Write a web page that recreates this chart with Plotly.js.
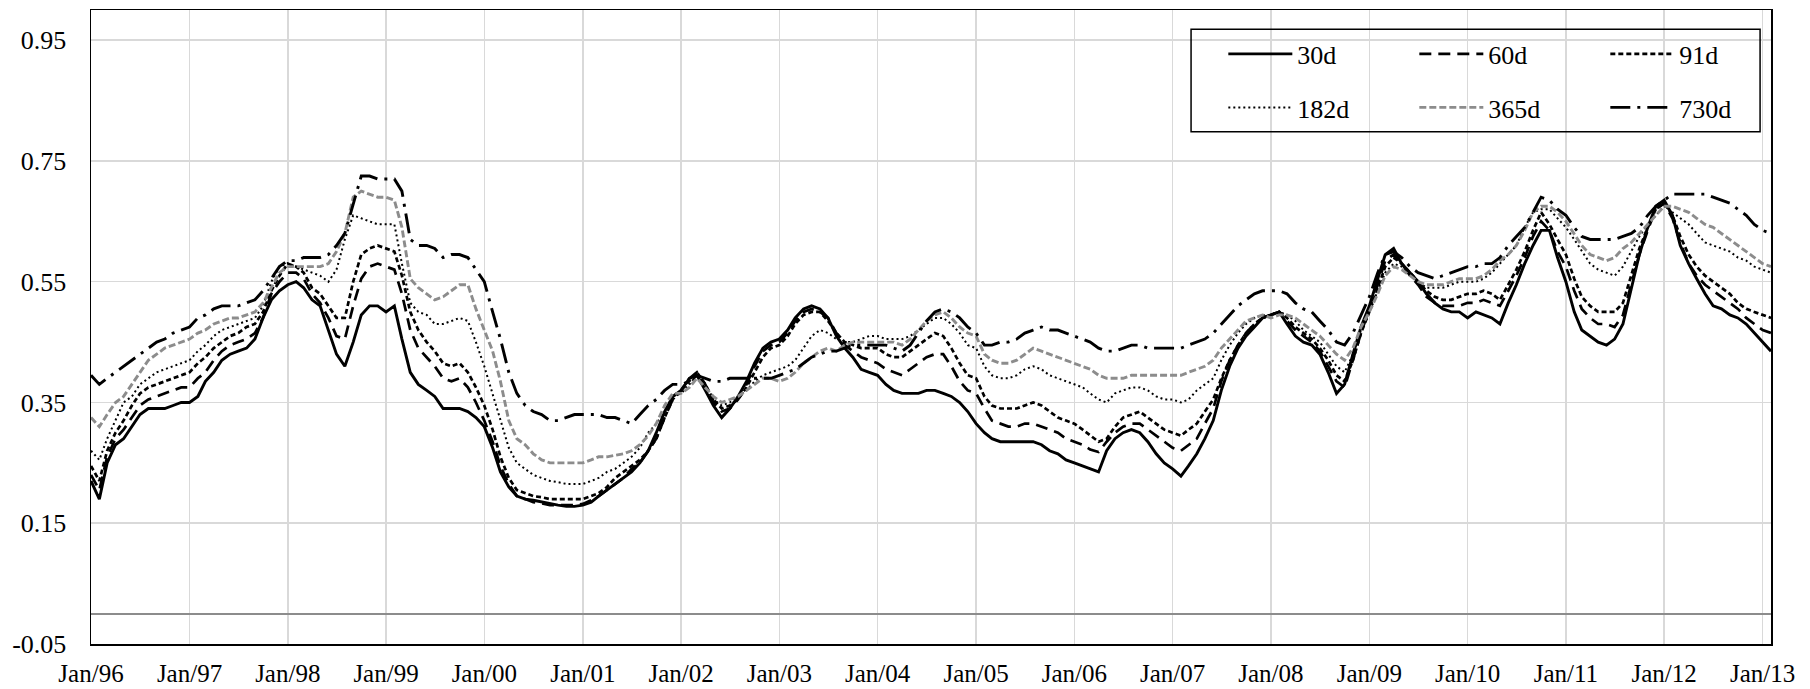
<!DOCTYPE html>
<html><head><meta charset="utf-8">
<script src="https://cdn.plot.ly/plotly-3.0.1.min.js"></script>
<style>html,body{margin:0;padding:0;background:#fff}#chart{width:1810px;height:689px}</style>
</head><body><div id="chart"></div>
<script>
const months = [
"1996-01","1996-02","1996-03","1996-04","1996-05","1996-06","1996-07","1996-08","1996-09","1996-10","1996-11","1996-12",
"1997-01","1997-02","1997-03","1997-04","1997-05","1997-06","1997-07","1997-08","1997-09","1997-10","1997-11","1997-12",
"1998-01","1998-02","1998-03","1998-04","1998-05","1998-06","1998-07","1998-08","1998-09","1998-10","1998-11","1998-12",
"1999-01","1999-02","1999-03","1999-04","1999-05","1999-06","1999-07","1999-08","1999-09","1999-10","1999-11","1999-12",
"2000-01","2000-02","2000-03","2000-04","2000-05","2000-06","2000-07","2000-08","2000-09","2000-10","2000-11","2000-12",
"2001-01","2001-02","2001-03","2001-04","2001-05","2001-06","2001-07","2001-08","2001-09","2001-10","2001-11","2001-12",
"2002-01","2002-02","2002-03","2002-04","2002-05","2002-06","2002-07","2002-08","2002-09","2002-10","2002-11","2002-12",
"2003-01","2003-02","2003-03","2003-04","2003-05","2003-06","2003-07","2003-08","2003-09","2003-10","2003-11","2003-12",
"2004-01","2004-02","2004-03","2004-04","2004-05","2004-06","2004-07","2004-08","2004-09","2004-10","2004-11","2004-12",
"2005-01","2005-02","2005-03","2005-04","2005-05","2005-06","2005-07","2005-08","2005-09","2005-10","2005-11","2005-12",
"2006-01","2006-02","2006-03","2006-04","2006-05","2006-06","2006-07","2006-08","2006-09","2006-10","2006-11","2006-12",
"2007-01","2007-02","2007-03","2007-04","2007-05","2007-06","2007-07","2007-08","2007-09","2007-10","2007-11","2007-12",
"2008-01","2008-02","2008-03","2008-04","2008-05","2008-06","2008-07","2008-08","2008-09","2008-10","2008-11","2008-12",
"2009-01","2009-02","2009-03","2009-04","2009-05","2009-06","2009-07","2009-08","2009-09","2009-10","2009-11","2009-12",
"2010-01","2010-02","2010-03","2010-04","2010-05","2010-06","2010-07","2010-08","2010-09","2010-10","2010-11","2010-12",
"2011-01","2011-02","2011-03","2011-04","2011-05","2011-06","2011-07","2011-08","2011-09","2011-10","2011-11","2011-12",
"2012-01","2012-02","2012-03","2012-04","2012-05","2012-06","2012-07","2012-08","2012-09","2012-10","2012-11","2012-12",
"2013-01","2013-02"
];

const s30d = [
0.22,0.19,0.25,0.28,0.29,0.31,0.33,0.34,0.34,0.34,0.345,0.35,
0.35,0.36,0.385,0.40,0.42,0.43,0.435,0.44,0.455,0.49,0.52,0.535,
0.545,0.55,0.54,0.52,0.51,0.47,0.43,0.41,0.45,0.495,0.51,0.51,
0.50,0.51,0.455,0.40,0.38,0.37,0.36,0.34,0.34,0.34,0.335,0.325,
0.31,0.275,0.235,0.21,0.195,0.19,0.188,0.185,0.182,0.18,0.178,0.178,
0.18,0.185,0.195,0.205,0.215,0.225,0.235,0.25,0.27,0.30,0.335,0.36,
0.37,0.39,0.395,0.37,0.345,0.325,0.34,0.36,0.385,0.415,0.44,0.45,
0.455,0.47,0.49,0.505,0.51,0.505,0.49,0.46,0.44,0.425,0.405,0.40,
0.395,0.38,0.37,0.365,0.365,0.365,0.37,0.37,0.365,0.36,0.35,0.335,
0.315,0.30,0.29,0.285,0.285,0.285,0.285,0.285,0.28,0.27,0.265,0.255,
0.25,0.245,0.24,0.235,0.27,0.29,0.30,0.305,0.30,0.285,0.265,0.25,
0.24,0.228,0.245,0.265,0.29,0.32,0.37,0.41,0.44,0.46,0.475,0.49,
0.495,0.50,0.48,0.46,0.45,0.445,0.43,0.40,0.365,0.38,0.43,0.475,
0.51,0.555,0.595,0.605,0.58,0.565,0.55,0.53,0.515,0.505,0.50,0.50,
0.49,0.50,0.495,0.49,0.48,0.515,0.545,0.58,0.61,0.635,0.635,0.59,
0.55,0.50,0.47,0.46,0.45,0.445,0.455,0.48,0.54,0.595,0.64,0.675,
0.685,0.66,0.61,0.58,0.555,0.53,0.51,0.505,0.495,0.49,0.48,0.465,
0.45,0.435
];

const s60d = [
0.23,0.205,0.26,0.29,0.305,0.325,0.345,0.355,0.36,0.365,0.37,0.375,
0.375,0.39,0.40,0.42,0.435,0.445,0.45,0.455,0.465,0.49,0.53,0.55,
0.565,0.565,0.555,0.53,0.515,0.49,0.46,0.455,0.51,0.555,0.575,0.58,
0.575,0.57,0.53,0.47,0.44,0.425,0.41,0.39,0.385,0.39,0.375,0.35,
0.32,0.285,0.245,0.215,0.195,0.19,0.185,0.183,0.18,0.18,0.18,0.18,
0.182,0.188,0.195,0.205,0.215,0.225,0.24,0.25,0.27,0.29,0.325,0.355,
0.37,0.39,0.40,0.38,0.35,0.335,0.34,0.355,0.38,0.41,0.435,0.445,
0.45,0.465,0.485,0.50,0.505,0.50,0.49,0.465,0.445,0.435,0.425,0.42,
0.415,0.405,0.40,0.395,0.405,0.415,0.425,0.43,0.43,0.41,0.385,0.37,
0.365,0.34,0.32,0.315,0.31,0.31,0.315,0.315,0.31,0.305,0.30,0.29,
0.285,0.28,0.272,0.268,0.285,0.30,0.31,0.315,0.315,0.305,0.295,0.285,
0.275,0.27,0.28,0.29,0.315,0.34,0.385,0.42,0.445,0.465,0.48,0.49,
0.495,0.50,0.485,0.47,0.46,0.45,0.435,0.41,0.385,0.375,0.42,0.465,
0.505,0.545,0.585,0.595,0.58,0.56,0.545,0.525,0.515,0.51,0.51,0.51,
0.515,0.515,0.52,0.515,0.51,0.535,0.56,0.59,0.625,0.65,0.635,0.60,
0.575,0.535,0.505,0.49,0.48,0.48,0.475,0.495,0.545,0.595,0.635,0.67,
0.68,0.655,0.615,0.58,0.56,0.545,0.535,0.525,0.515,0.505,0.49,0.48,
0.47,0.465
];

const s91d = [
0.245,0.22,0.27,0.30,0.32,0.345,0.365,0.375,0.38,0.385,0.39,0.395,
0.40,0.415,0.425,0.44,0.45,0.46,0.465,0.475,0.48,0.50,0.535,0.56,
0.58,0.575,0.565,0.54,0.53,0.51,0.49,0.49,0.55,0.595,0.605,0.61,
0.605,0.60,0.56,0.50,0.47,0.45,0.435,0.415,0.41,0.415,0.40,0.375,
0.345,0.305,0.26,0.225,0.205,0.20,0.195,0.193,0.19,0.19,0.19,0.19,
0.19,0.195,0.20,0.21,0.225,0.235,0.245,0.255,0.27,0.29,0.325,0.355,
0.37,0.385,0.40,0.38,0.355,0.34,0.345,0.355,0.375,0.40,0.425,0.44,
0.445,0.46,0.48,0.495,0.50,0.50,0.485,0.465,0.45,0.445,0.44,0.44,
0.44,0.43,0.425,0.425,0.435,0.445,0.455,0.465,0.46,0.44,0.415,0.395,
0.39,0.36,0.345,0.34,0.34,0.34,0.345,0.35,0.345,0.335,0.325,0.32,
0.315,0.305,0.295,0.285,0.29,0.31,0.325,0.33,0.335,0.325,0.315,0.305,
0.30,0.295,0.305,0.315,0.335,0.355,0.39,0.42,0.445,0.465,0.48,0.49,
0.495,0.50,0.49,0.475,0.465,0.455,0.44,0.42,0.395,0.385,0.42,0.465,
0.50,0.54,0.575,0.59,0.58,0.565,0.55,0.535,0.525,0.52,0.52,0.525,
0.53,0.53,0.535,0.53,0.52,0.545,0.57,0.60,0.635,0.665,0.645,0.62,
0.595,0.555,0.525,0.51,0.50,0.50,0.50,0.515,0.56,0.605,0.64,0.67,
0.68,0.66,0.625,0.595,0.575,0.56,0.55,0.54,0.53,0.515,0.505,0.50,
0.495,0.49
];

const s182d = [
0.27,0.255,0.29,0.32,0.35,0.36,0.38,0.39,0.40,0.405,0.41,0.415,
0.42,0.435,0.445,0.46,0.47,0.475,0.48,0.485,0.49,0.51,0.55,0.575,
0.58,0.575,0.57,0.565,0.56,0.55,0.57,0.62,0.66,0.655,0.65,0.645,
0.645,0.645,0.58,0.515,0.50,0.495,0.48,0.48,0.485,0.49,0.485,0.45,
0.41,0.365,0.32,0.275,0.25,0.24,0.23,0.225,0.22,0.218,0.215,0.215,
0.215,0.22,0.225,0.235,0.24,0.25,0.26,0.275,0.30,0.315,0.335,0.36,
0.365,0.38,0.395,0.375,0.355,0.345,0.35,0.36,0.37,0.385,0.395,0.40,
0.405,0.41,0.42,0.44,0.46,0.47,0.465,0.455,0.45,0.45,0.455,0.46,
0.46,0.455,0.455,0.455,0.46,0.47,0.48,0.49,0.49,0.48,0.465,0.445,
0.44,0.41,0.395,0.39,0.39,0.395,0.405,0.41,0.405,0.395,0.39,0.385,
0.38,0.375,0.365,0.355,0.35,0.365,0.37,0.375,0.375,0.37,0.36,0.355,
0.355,0.35,0.355,0.37,0.38,0.39,0.42,0.445,0.465,0.48,0.49,0.495,
0.495,0.50,0.495,0.485,0.47,0.46,0.45,0.43,0.41,0.40,0.43,0.47,
0.50,0.535,0.565,0.58,0.575,0.565,0.55,0.54,0.54,0.54,0.545,0.55,
0.55,0.55,0.555,0.565,0.58,0.595,0.61,0.64,0.665,0.67,0.67,0.655,
0.64,0.62,0.60,0.58,0.57,0.565,0.56,0.575,0.60,0.625,0.645,0.66,
0.675,0.665,0.655,0.645,0.63,0.615,0.61,0.605,0.60,0.59,0.585,0.575,
0.57,0.565
];

const s365d = [
0.325,0.31,0.33,0.35,0.36,0.38,0.40,0.42,0.43,0.44,0.445,0.45,
0.455,0.465,0.47,0.48,0.485,0.49,0.49,0.495,0.50,0.515,0.54,0.565,
0.575,0.575,0.575,0.575,0.575,0.58,0.60,0.63,0.69,0.70,0.695,0.69,
0.69,0.685,0.64,0.555,0.54,0.53,0.52,0.525,0.535,0.545,0.545,0.505,
0.47,0.435,0.385,0.32,0.29,0.28,0.265,0.255,0.25,0.25,0.25,0.25,
0.25,0.255,0.26,0.26,0.262,0.265,0.27,0.28,0.295,0.315,0.345,0.365,
0.365,0.375,0.39,0.375,0.36,0.35,0.355,0.36,0.37,0.38,0.39,0.39,
0.385,0.39,0.40,0.415,0.425,0.435,0.44,0.435,0.445,0.45,0.45,0.45,
0.45,0.45,0.45,0.445,0.455,0.47,0.485,0.495,0.50,0.49,0.475,0.465,
0.46,0.43,0.42,0.415,0.415,0.42,0.43,0.44,0.435,0.43,0.425,0.42,
0.415,0.41,0.405,0.395,0.39,0.39,0.39,0.395,0.395,0.395,0.395,0.395,
0.395,0.395,0.40,0.405,0.41,0.42,0.44,0.455,0.47,0.485,0.49,0.495,
0.49,0.495,0.495,0.49,0.48,0.47,0.46,0.445,0.43,0.42,0.44,0.475,
0.50,0.53,0.56,0.575,0.57,0.56,0.55,0.545,0.545,0.545,0.55,0.555,
0.555,0.555,0.56,0.57,0.585,0.595,0.61,0.635,0.665,0.675,0.675,0.665,
0.65,0.63,0.61,0.595,0.59,0.585,0.59,0.605,0.615,0.63,0.645,0.66,
0.675,0.675,0.67,0.665,0.655,0.645,0.64,0.63,0.62,0.61,0.60,0.59,
0.58,0.575
];

const s730d = [
0.395,0.38,0.39,0.40,0.41,0.42,0.43,0.44,0.45,0.455,0.465,0.47,
0.475,0.49,0.495,0.505,0.51,0.51,0.51,0.515,0.52,0.535,0.555,0.575,
0.585,0.585,0.59,0.59,0.59,0.595,0.61,0.63,0.68,0.725,0.725,0.72,
0.72,0.72,0.70,0.62,0.61,0.61,0.605,0.59,0.595,0.595,0.59,0.57,
0.55,0.50,0.455,0.40,0.365,0.345,0.335,0.33,0.32,0.32,0.325,0.33,
0.33,0.33,0.33,0.325,0.325,0.32,0.315,0.33,0.345,0.355,0.37,0.38,
0.38,0.385,0.395,0.39,0.385,0.385,0.39,0.39,0.39,0.39,0.39,0.39,
0.395,0.40,0.405,0.415,0.425,0.43,0.435,0.435,0.44,0.445,0.445,0.445,
0.445,0.445,0.44,0.435,0.445,0.465,0.485,0.50,0.505,0.50,0.49,0.475,
0.465,0.445,0.445,0.45,0.45,0.455,0.465,0.47,0.475,0.47,0.47,0.465,
0.46,0.455,0.45,0.44,0.435,0.435,0.44,0.445,0.445,0.44,0.44,0.44,
0.44,0.44,0.445,0.45,0.455,0.465,0.48,0.495,0.51,0.52,0.53,0.535,
0.535,0.535,0.53,0.515,0.505,0.50,0.485,0.47,0.45,0.445,0.465,0.495,
0.525,0.565,0.595,0.60,0.59,0.575,0.565,0.56,0.555,0.56,0.565,0.57,
0.575,0.575,0.58,0.58,0.59,0.61,0.625,0.64,0.665,0.69,0.685,0.67,
0.66,0.64,0.625,0.62,0.62,0.62,0.62,0.625,0.63,0.64,0.66,0.675,
0.685,0.695,0.695,0.695,0.695,0.695,0.69,0.685,0.68,0.67,0.66,0.645,
0.635,0.63
];

const seriesNames = ["30d","60d","91d","182d","365d","730d"];
const seriesValues = [s30d, s60d, s91d, s182d, s365d, s730d];
const yTickValues = [-0.05, 0.15, 0.35, 0.55, 0.75, 0.95];

const lineStyles = [
  {color:"#000000", width:2.9, dash:"solid"},
  {color:"#000000", width:2.7, dash:"12px,7px"},
  {color:"#000000", width:2.7, dash:"5px,3px"},
  {color:"#000000", width:2.0, dash:"2px,3px"},
  {color:"#8c8c8c", width:2.9, dash:"7px,3px"},
  {color:"#000000", width:2.9, dash:"20px,7px,3px,7px"}
];

const serif = "Liberation Serif";

const traces = seriesValues.map((vals, i) => ({
  type: "scatter",
  mode: "lines",
  x: months,
  y: vals,
  name: seriesNames[i],
  line: lineStyles[i],
  legend: i < 3 ? "legend" : "legend2",
  hoverinfo: "skip"
}));

const legendBase = {
  orientation: "h",
  xanchor: "left",
  yanchor: "middle",
  bgcolor: "rgba(0,0,0,0)",
  borderwidth: 0,
  font: {family: serif, size: 26, color: "#000"},
  itemwidth: 64,
  entrywidth: 112,
  entrywidthmode: "pixels",
  traceorder: "normal"
};

const layout = {
  width: 1810,
  height: 689,
  margin: {l: 91, r: 39, t: 10, b: 45, pad: 0},
  paper_bgcolor: "#ffffff",
  plot_bgcolor: "#ffffff",
  font: {family: serif, size: 25, color: "#000"},
  showlegend: true,
  xaxis: {
    type: "date",
    range: ["1996-01-01", "2013-02-01"],
    tick0: "1996-01-01",
    dtick: "M12",
    tickformat: "%b/%y",
    showgrid: true,
    gridcolor: "#d9d9d9",
    gridwidth: 1.5,
    zeroline: false,
    showline: true,
    mirror: true,
    linecolor: "#000",
    linewidth: 1.5,
    ticks: "",
    ticklabelstandoff: 6,
    tickfont: {family: serif, size: 25, color: "#000"}
  },
  yaxis: {
    range: [-0.05, 1.0],
    tickmode: "array",
    tickvals: yTickValues,
    ticktext: yTickValues.map(v => v.toFixed(2)),
    showgrid: true,
    gridcolor: "#d9d9d9",
    gridwidth: 1.5,
    zeroline: true,
    zerolinecolor: "#8c8c8c",
    zerolinewidth: 2,
    showline: true,
    mirror: true,
    linecolor: "#000",
    linewidth: 1.5,
    ticks: "",
    ticklabelstandoff: 18,
    tickfont: {family: serif, size: 26, color: "#000"}
  },
  legend: Object.assign({}, legendBase, {x: 0.674, y: 0.9306}),
  legend2: Object.assign({}, legendBase, {x: 0.674, y: 0.8462}),
  shapes: [{
    type: "rect", xref: "paper", yref: "paper",
    x0: 0.6548, x1: 0.9935, y0: 0.808, y1: 0.9696,
    line: {color: "#000", width: 1.5},
    fillcolor: "rgba(0,0,0,0)"
  }]
};

Plotly.newPlot("chart", traces, layout, {displayModeBar: false, staticPlot: true});
</script>
</body></html>
